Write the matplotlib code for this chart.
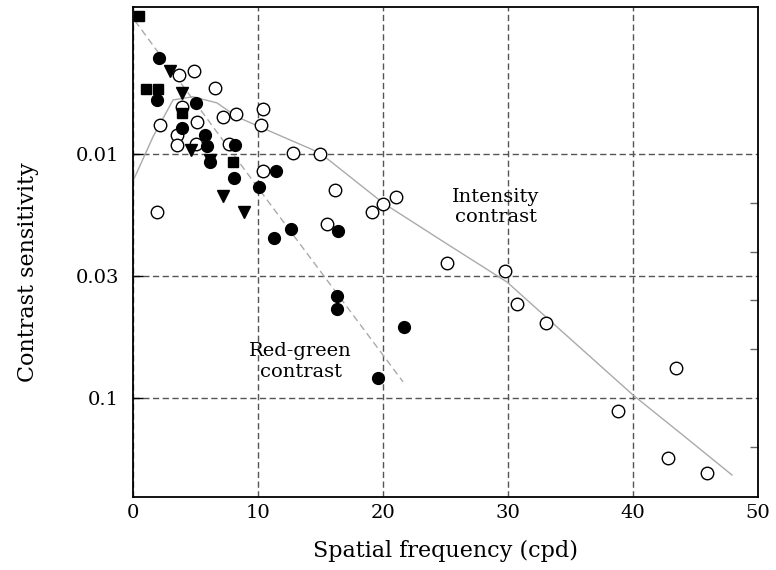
import numpy as np
import matplotlib
matplotlib.use('Agg')
import matplotlib.pyplot as plt
from matplotlib.ticker import NullFormatter

""" Data read off the figure
"""
# Intensity contrast (open circles)
int_x = [3.68, 4.88, 6.56, 2.16, 3.92, 5.12, 3.52, 3.52, 5.04, 7.20, 8.24, 7.68,
         10.40, 10.24, 12.80, 14.96, 10.40, 1.92, 16.16, 15.52, 19.12, 20.00, 21.04,
         25.12, 29.76, 30.72, 33.04, 43.44, 38.80, 42.80, 45.92]
int_y = [0.00474, 0.00457, 0.00537, 0.00760, 0.00641, 0.00740, 0.00836, 0.00918,
         0.00910, 0.00705, 0.00686, 0.00910, 0.00655, 0.00760, 0.00991, 0.0100,
         0.01175, 0.01726, 0.01406, 0.01936, 0.0173, 0.0160, 0.0150, 0.0280,
         0.0302, 0.0412, 0.0493, 0.0753, 0.1130, 0.1762, 0.2028]

# Red-green contrast (filled circles)
rg_x = [2.08, 1.92, 5.04, 3.92, 5.76, 5.92, 8.16, 6.16, 8.08, 11.44, 10.08,
        11.28, 12.64, 16.40, 16.32, 16.32, 21.68, 19.60]
rg_y = [0.00404, 0.00601, 0.00618, 0.00782, 0.00836, 0.00927, 0.00918, 0.01079,
        0.01253, 0.01175, 0.01365, 0.02208, 0.02028, 0.02070, 0.0382, 0.0432,
        0.0512, 0.0828]

# other observers (filled squares and triangles)
sq_x = [0.48, 1.04, 2.00, 3.92, 8.00]
sq_y = [0.00272, 0.00542, 0.00542, 0.00679, 0.01079]
tri_x = [2.96, 3.92, 4.64, 6.16, 7.20, 8.88]
tri_y = [0.00457, 0.00562, 0.00964, 0.01059, 0.01486, 0.0173]

# fitted curves
int_fit_x = [0.08, 1.60, 3.20, 4.80, 6.72, 8.32, 10.16, 14.96, 20.00, 25.12,
             29.92, 34.72, 40.00, 43.76, 47.92]
int_fit_y = [0.01265, 0.00851, 0.00601, 0.00583, 0.00618, 0.00705, 0.00775,
             0.00991, 0.01588, 0.02339, 0.0335, 0.0557, 0.0973, 0.139, 0.207]
rg_fit_x = [0.16, 10.0, 21.6]
rg_fit_y = [0.00285, 0.01377, 0.0859]

y_ticks = [0.01, 10 ** -1.5, 0.1]
y_labels = ['0.01', '0.03', '0.1']
y_minor = [10 ** -1.8, 10 ** -1.6, 10 ** -1.4, 10 ** -1.2, 10 ** -0.8]

""" Plot
"""
plt.rcParams['font.family'] = ['DejaVu Serif']

fig = plt.figure(figsize=(7.76, 5.70), dpi=100)
ax = fig.add_axes([0.1714, 0.1281, 0.8054, 0.8596])

ax.plot(int_fit_x, int_fit_y, color='#aaaaaa', lw=1.0, zorder=2)
ax.plot(rg_fit_x, rg_fit_y, color='#aaaaaa', lw=1.0, linestyle=(0, (5, 3)), zorder=2)

ax.plot(int_x, int_y, 'o', ms=9, mfc='white', mec='black', mew=1.0, zorder=3)
ax.plot(rg_x, rg_y, 'o', ms=8.5, color='black', zorder=4)
ax.plot(sq_x, sq_y, 's', ms=7.5, color='black', zorder=4, clip_on=False)
ax.plot(tri_x, tri_y, 'v', ms=8.5, color='black', zorder=4)

ax.text(29.0, 0.0165, 'Intensity\ncontrast', ha='center', va='center',
        fontsize=14, linespacing=1.2)
ax.text(13.4, 0.0711, 'Red-green\ncontrast', ha='center', va='center',
        fontsize=14, linespacing=1.2)

ax.set_yscale('log')
ax.set_xlim(0, 50)
ax.set_ylim(0.2547, 0.0025)

ax.set_xticks([0, 10, 20, 30, 40, 50])
ax.set_yticks(y_ticks)
ax.set_yticklabels(y_labels)
ax.set_yticks(y_minor, minor=True)
ax.yaxis.set_minor_formatter(NullFormatter())

ax.tick_params(axis='x', which='major', length=0, pad=5, labelsize=14)
ax.tick_params(axis='y', which='major', direction='in', length=7, width=1,
               left=True, right=False, pad=10, labelsize=14)
ax.tick_params(axis='y', which='minor', direction='in', length=6, width=1,
               left=False, right=True, color='#666666')

ax.grid(True, which='major', color='#555555', lw=1.0, linestyle=(0, (4.5, 2.5)))
ax.set_axisbelow(True)
for s in ax.spines.values():
    s.set_linewidth(1.3)

ax.set_xlabel('Spatial frequency (cpd)', fontsize=16, va='center')
ax.set_ylabel('Contrast sensitivity', fontsize=16, va='center')
ax.xaxis.set_label_coords(0.5, -0.110)
ax.yaxis.set_label_coords(-0.168, 0.459)

fig.savefig('out.png', dpi=100)
